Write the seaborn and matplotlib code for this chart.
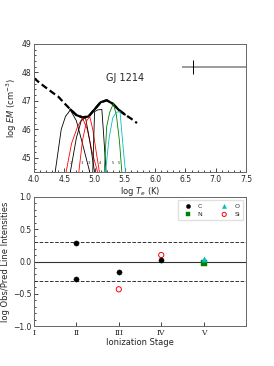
import numpy as np
import pandas as pd
import matplotlib
matplotlib.use("Agg")
import matplotlib.pyplot as plt
from matplotlib.ticker import MultipleLocator
import seaborn as sns

# emission measure distribution
t_em = [4.0, 4.1, 4.2, 4.3, 4.4, 4.5, 4.6, 4.7, 4.8, 4.9, 5.0, 5.1, 5.2, 5.3, 5.4, 5.5, 5.6, 5.7]
em = [47.8, 47.62, 47.46, 47.3, 47.15, 46.92, 46.7, 46.5, 46.42, 46.45, 46.7, 46.95, 47.02, 46.9, 46.68, 46.52, 46.38, 46.22]

# contribution functions (T, EM, colour)
cont_t = [
    [4.35, 4.45, 4.52, 4.6, 4.7, 4.8, 4.92],
    [4.53, 4.62, 4.72, 4.8, 4.88, 4.96, 5.05],
    [4.6, 4.7, 4.78, 4.85, 4.92, 5.0],
    [4.74, 4.8, 4.87, 4.92, 4.97, 5.02, 5.08],
    [4.97, 5.0, 5.05, 5.12, 5.15, 5.19],
    [5.16, 5.2, 5.25, 5.31, 5.36, 5.41, 5.45],
    [5.18, 5.24, 5.3, 5.36, 5.42, 5.47, 5.51],
]
cont_em = [
    [44.5, 46.0, 46.45, 46.68, 46.3, 45.5, 44.5],
    [44.5, 45.5, 46.1, 46.4, 46.0, 45.2, 44.5],
    [44.5, 45.7, 46.3, 46.42, 45.6, 44.5],
    [44.5, 45.6, 46.3, 46.45, 46.0, 45.3, 44.5],
    [44.5, 46.62, 46.68, 46.7, 45.8, 44.5],
    [44.5, 46.1, 46.6, 46.9, 46.5, 45.6, 44.5],
    [44.5, 45.7, 46.4, 46.6, 46.62, 45.4, 44.5],
]
cont_col = ["black", "red", "black", "red", "black", "green", "c"]

stage_t = [4.61, 4.80, 4.91, 5.09, 5.30, 5.41]
stage_lab = ["2", "3", "3", "4", "5", "5"]

# line intensity ratios
ions = ["C", "C", "C", "C", "Si", "Si", "N", "O"]
stage = [2, 2, 3, 4, 3, 4, 5, 5]
ratio = [0.28, -0.27, -0.16, 0.02, -0.43, 0.10, -0.03, 0.04]
roman = ["I", "II", "III", "IV", "V", ""]

sns.set_style("ticks")
plt.rcParams["font.family"] = ["DejaVu Sans"]

fig = plt.figure(figsize=(2.74, 3.66), dpi=100)
ax1 = fig.add_axes([0.124, 0.530, 0.774, 0.350])
ax2 = fig.add_axes([0.124, 0.109, 0.774, 0.353])

fs = 5.5
em_df = pd.DataFrame({"t": t_em, "em": em})
sns.lineplot(data=em_df, x="t", y="em", ax=ax1, color="black", lw=1.6,
             linestyle=(0, (3, 1.5)), sort=False, estimator=None)
solid = em_df[(em_df.t >= 4.6) & (em_df.t <= 5.5)]
sns.lineplot(data=solid, x="t", y="em", ax=ax1, color="black", lw=1.6,
             sort=False, estimator=None)
for tt, ee, cc in zip(cont_t, cont_em, cont_col):
    sns.lineplot(x=tt, y=ee, ax=ax1, color=cc, lw=0.6, sort=False, estimator=None)
for tt, lab in zip(stage_t, stage_lab):
    ax1.text(tt, 44.8, lab, fontsize=2.8, ha="center", va="center", color="0.2")

ax1.errorbar([6.62], [48.2], xerr=[[0.17], [1.0]], color="0.5", lw=1.1, capsize=0)
ax1.errorbar([6.62], [48.2], yerr=0.25, color="black", lw=0.7, capsize=0)
ax1.text(5.5, 47.8, "GJ 1214", fontsize=7, ha="center", va="center")

ax1.set_xlim(4.0, 7.5)
ax1.set_ylim(44.5, 49)
ax1.set_xticks(np.arange(4.0, 7.51, 0.5))
ax1.set_yticks([45, 46, 47, 48, 49])
ax1.xaxis.set_minor_locator(MultipleLocator(0.1))
ax1.yaxis.set_minor_locator(MultipleLocator(0.2))
ax1.set_xlabel("log $T_e$ (K)", fontsize=6, labelpad=1)
ax1.set_ylabel("log $EM$ (cm$^{-3}$)", fontsize=6, labelpad=2)

pts = pd.DataFrame({"ion": ions, "stage": stage, "ratio": ratio})
marks = {"C": "o", "N": "s", "O": "^", "Si": "o"}
cols = {"C": "black", "N": "green", "O": "c", "Si": "none"}
for ion in ["C", "N", "O", "Si"]:
    sub = pts[pts.ion == ion]
    if ion == "Si":
        sns.scatterplot(data=sub, x="stage", y="ratio", ax=ax2, marker="o",
                        facecolor="none", edgecolor="red", linewidth=0.7, s=14, label=ion)
    else:
        sns.scatterplot(data=sub, x="stage", y="ratio", ax=ax2, marker=marks[ion],
                        color=cols[ion], edgecolor=cols[ion], s=14, label=ion, zorder=3)

ax2.axhline(0, color="0.2", lw=0.8, zorder=1)
ax2.axhline(0.3, color="0.2", lw=0.7, ls="--", zorder=1)
ax2.axhline(-0.3, color="0.2", lw=0.7, ls="--", zorder=1)
ax2.set_xlim(1, 6)
ax2.set_ylim(-1, 1)
ax2.set_xticks([1, 2, 3, 4, 5, 6])
ax2.set_xticklabels(roman, family="DejaVu Serif")
ax2.set_yticks([-1.0, -0.5, 0.0, 0.5, 1.0])
ax2.yaxis.set_minor_locator(MultipleLocator(0.1))
ax2.set_xlabel("Ionization Stage", fontsize=6, labelpad=1)
ax2.set_ylabel("log Obs/Pred Line Intensities", fontsize=6, labelpad=2)
ax2.legend(loc="upper right", ncol=2, fontsize=4.5, frameon=True, handletextpad=0.6,
           columnspacing=2.5, markerscale=0.8, borderpad=0.5, fancybox=False,
           edgecolor="0.85")

for ax in (ax1, ax2):
    ax.tick_params(which="both", direction="in", labelsize=fs, width=0.6, pad=2)
    ax.tick_params(which="major", length=3)
    ax.tick_params(which="minor", length=1.5)
    for sp in ax.spines.values():
        sp.set_color("0.4")
        sp.set_linewidth(0.7)

fig.savefig("out.png", dpi=100)
